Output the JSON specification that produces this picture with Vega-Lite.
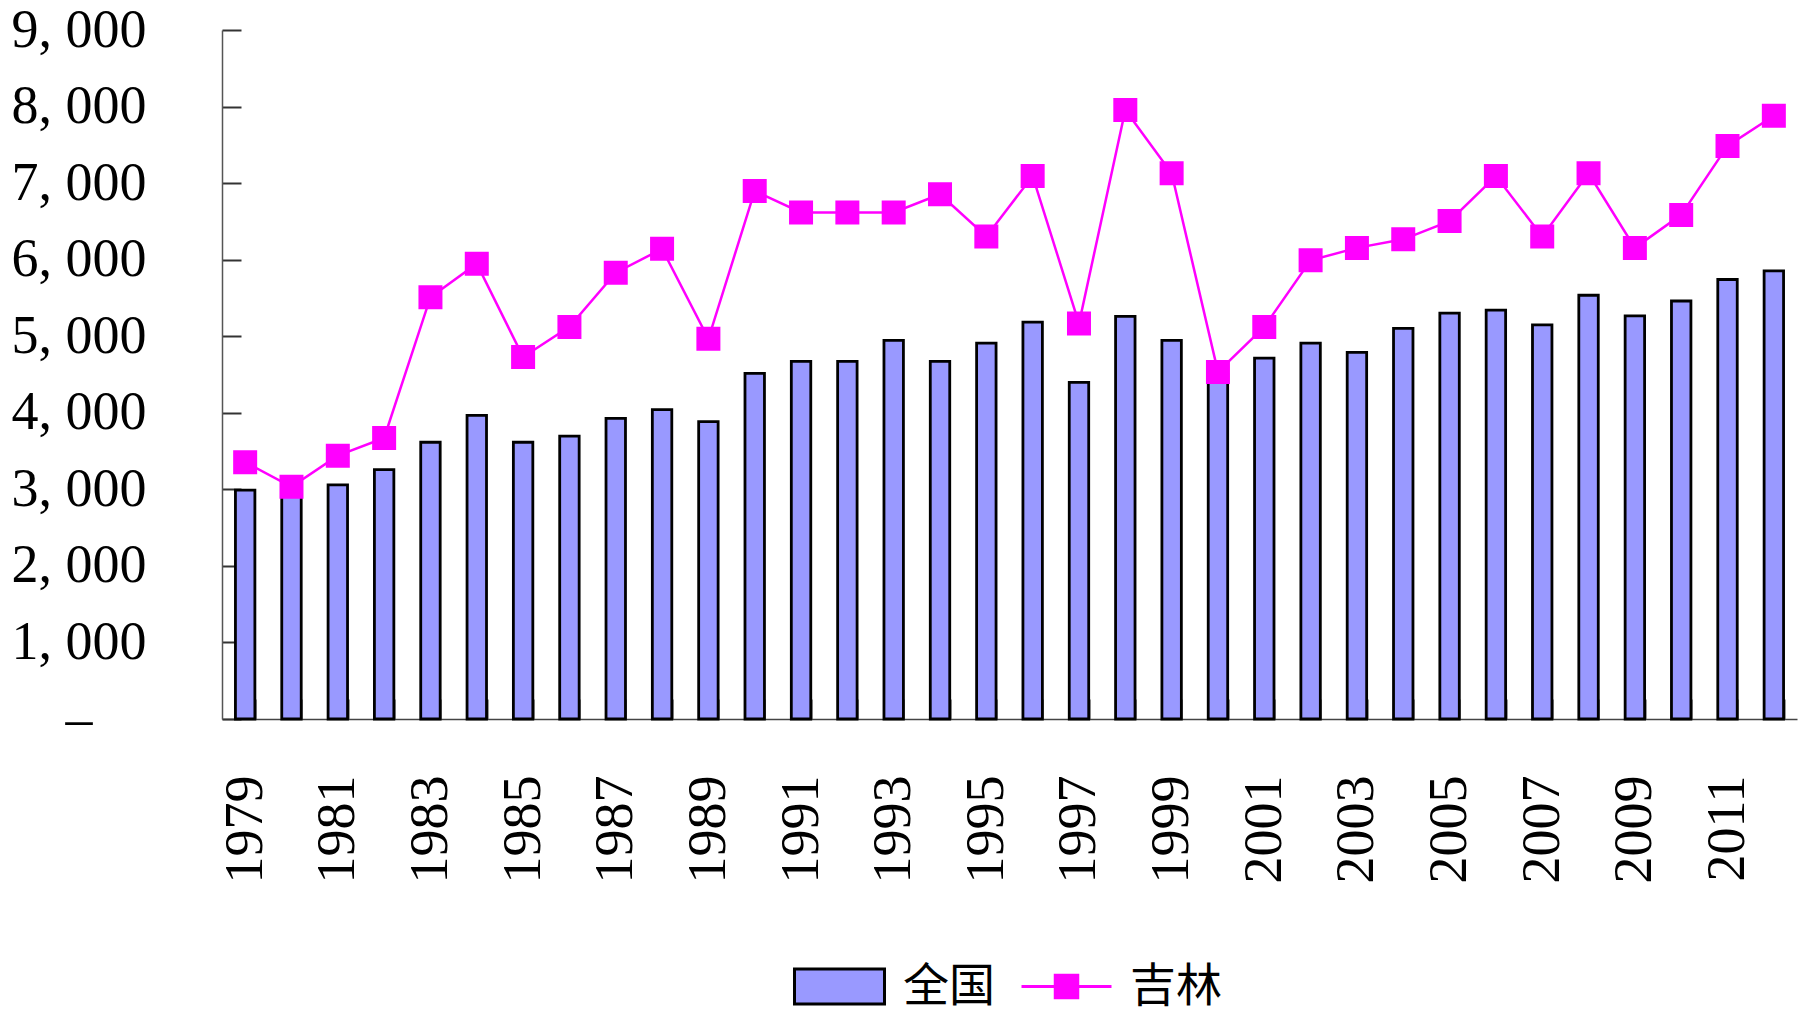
{
  "$schema": "https://vega.github.io/schema/vega-lite/v6.json",
  "width": 1575,
  "height": 689,
  "autosize": {"type": "none"},
  "padding": {"left": 222, "top": 30, "right": 3, "bottom": 295},
  "background": "white",
  "config": {
    "view": {"stroke": null},
    "axis": {"grid": false, "labelFont": "Liberation Serif", "labelFontSize": 54, "labelColor": "black", "titleFontSize": 0, "ticks": true},
    "legend": {"labelFont": "Noto Sans CJK SC", "labelFontSize": 46, "labelColor": "black", "labelOffset": 17, "padding": 0, "symbolSize": 8100, "symbolStrokeWidth": 3, "symbolOpacity": 1}
  },
  "data": {"values": [
    {"year": 1979, "quanguo": 2990, "jilin": 3355},
    {"year": 1980, "quanguo": 3040, "jilin": 3033},
    {"year": 1981, "quanguo": 3058, "jilin": 3440},
    {"year": 1982, "quanguo": 3258, "jilin": 3671},
    {"year": 1983, "quanguo": 3615, "jilin": 5510},
    {"year": 1984, "quanguo": 3965, "jilin": 5947},
    {"year": 1985, "quanguo": 3615, "jilin": 4728},
    {"year": 1986, "quanguo": 3696, "jilin": 5122},
    {"year": 1987, "quanguo": 3927, "jilin": 5829},
    {"year": 1988, "quanguo": 4040, "jilin": 6141},
    {"year": 1989, "quanguo": 3884, "jilin": 4966},
    {"year": 1990, "quanguo": 4515, "jilin": 6898},
    {"year": 1991, "quanguo": 4672, "jilin": 6617},
    {"year": 1992, "quanguo": 4672, "jilin": 6617},
    {"year": 1993, "quanguo": 4947, "jilin": 6617},
    {"year": 1994, "quanguo": 4672, "jilin": 6854},
    {"year": 1995, "quanguo": 4909, "jilin": 6304},
    {"year": 1996, "quanguo": 5184, "jilin": 7092},
    {"year": 1997, "quanguo": 4397, "jilin": 5166},
    {"year": 1998, "quanguo": 5259, "jilin": 7955},
    {"year": 1999, "quanguo": 4947, "jilin": 7129},
    {"year": 2000, "quanguo": 4500, "jilin": 4534},
    {"year": 2001, "quanguo": 4715, "jilin": 5122},
    {"year": 2002, "quanguo": 4909, "jilin": 5991},
    {"year": 2003, "quanguo": 4790, "jilin": 6154},
    {"year": 2004, "quanguo": 5103, "jilin": 6266},
    {"year": 2005, "quanguo": 5303, "jilin": 6504},
    {"year": 2006, "quanguo": 5341, "jilin": 7092},
    {"year": 2007, "quanguo": 5147, "jilin": 6304},
    {"year": 2008, "quanguo": 5535, "jilin": 7129},
    {"year": 2009, "quanguo": 5266, "jilin": 6154},
    {"year": 2010, "quanguo": 5460, "jilin": 6585},
    {"year": 2011, "quanguo": 5741, "jilin": 7486},
    {"year": 2012, "quanguo": 5854, "jilin": 7880}
  ]},
  "encoding": {
    "x": {
      "field": "year", "type": "ordinal", "title": null,
      "scale": {"paddingInner": 0.58, "paddingOuter": 0.29},
      "axis": {
        "labelAngle": 270, "labelOverlap": false, "tickBand": "extent",
        "ticks": true, "tickSize": -20, "tickColor": "#333", "tickWidth": 2,
        "domainColor": "#444", "domainWidth": 1.5,
        "labelPadding": 76,
        "labelExpr": "(datum.value - 1979) % 2 == 0 ? datum.value + '' : ''"
      }
    }
  },
  "layer": [
    {
      "mark": {"type": "bar", "stroke": "black", "strokeWidth": 2.8},
      "encoding": {
        "y": {
          "field": "quanguo", "type": "quantitative", "title": null,
          "scale": {"domain": [0, 9000], "nice": false},
          "axis": {
            "values": [0, 1000, 2000, 3000, 4000, 5000, 6000, 7000, 8000, 9000],
            "ticks": true, "tickSize": -19, "tickColor": "#333", "tickWidth": 2,
            "domainColor": "#555", "domainWidth": 1.5,
            "labelPadding": {"condition": {"test": "datum.value == 0", "value": 149}, "value": 95},
            "labelExpr": "datum.value == 0 ? '–' : replace(format(datum.value, ','), ',', ', ')"
          }
        },
        "fill": {
          "datum": "全国", "type": "nominal",
          "scale": {"domain": ["全国"], "range": ["#9999FF"]},
          "legend": {
            "title": null, "orient": "none", "direction": "horizontal",
            "legendX": 571, "legendY": 910,
            "symbolType": "M-1,-0.39H1V0.39H-1Z",
            "symbolStrokeColor": "black"
          }
        }
      }
    },
    {
      "mark": {"type": "line", "strokeWidth": 2.5, "point": {"shape": "square", "size": 484, "filled": true, "fill": "#FF00FF", "stroke": "#FF00FF", "opacity": 1}},
      "encoding": {
        "y": {"field": "jilin", "type": "quantitative"},
        "stroke": {
          "datum": "吉林", "type": "nominal",
          "scale": {"domain": ["吉林"], "range": ["#FF00FF"]},
          "legend": {
            "title": null, "orient": "none", "direction": "horizontal",
            "legendX": 798, "legendY": 910,
            "symbolType": "M-1,0H1M-0.25,-0.25H0.25V0.25H-0.25Z",
            "symbolFillColor": "#FF00FF"
          }
        }
      }
    }
  ]
}
